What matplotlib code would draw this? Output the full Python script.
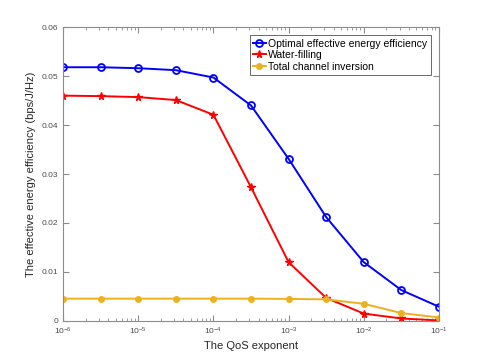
import numpy as np
import matplotlib
matplotlib.use('Agg')
import matplotlib.pyplot as plt
from matplotlib.ticker import LogLocator, FixedLocator

# QoS exponent values (10^-6 ... 10^-1, half-decade steps)
qos = [1e-6, 10**-5.5, 1e-5, 10**-4.5, 1e-4, 10**-3.5, 1e-3, 10**-2.5, 1e-2, 10**-1.5, 1e-1]
optimal = [0.0518, 0.0518, 0.0516, 0.0512, 0.0497, 0.0440, 0.0331, 0.0212, 0.0120, 0.0063, 0.0029]
water_filling = [0.0460, 0.0459, 0.0457, 0.0451, 0.0421, 0.0273, 0.0120, 0.0047, 0.0015, 0.0005, 0.0001]
channel_inv = [0.00455, 0.00455, 0.00455, 0.00455, 0.00455, 0.00455, 0.0045, 0.0044, 0.0035, 0.0016, 0.0007]

yticks = [0, 0.01, 0.02, 0.03, 0.04, 0.05, 0.06]
ytick_labels = ['0', '0.01', '0.02', '0.03', '0.04', '0.05', '0.06']

plt.rcParams['font.family'] = ['Liberation Sans', 'DejaVu Sans']

fig = plt.figure(figsize=(4.85, 3.61), dpi=100)
ax = fig.add_axes([0.130, 0.111, 0.775, 0.814])

ax.plot(qos, optimal, color='blue', marker='o', markerfacecolor='none',
        markersize=5, markeredgewidth=1.3, linewidth=1.4,
        label='Optimal effective energy efficiency')
ax.plot(qos, water_filling, color='red', marker='*', markersize=5.5,
        markeredgewidth=1.0, linewidth=1.4, label='Water-filling')
ax.plot(qos, channel_inv, color=(0.929, 0.694, 0.125), marker='o',
        markersize=4, linewidth=1.4, label='Total channel inversion')

ax.set_xscale('log')
ax.set_xlim(1e-6, 1e-1)
ax.set_ylim(0, 0.06)
ax.yaxis.set_major_locator(FixedLocator(yticks))
ax.set_yticklabels(ytick_labels)
ax.xaxis.set_major_locator(LogLocator(base=10, numticks=10))
ax.xaxis.set_minor_locator(LogLocator(base=10, subs=np.arange(2, 10), numticks=20))

gray = '#4d4d4d'
for s in ax.spines.values():
    s.set_color('#8c8c8c')
    s.set_linewidth(0.8)
ax.tick_params(which='both', direction='in', top=True, right=True,
               colors='#8c8c8c', labelcolor=gray, labelsize=6)
ax.tick_params(which='major', length=4)
ax.tick_params(which='minor', length=2)

ax.set_xlabel('The QoS exponent', fontsize=8, color='#262626', labelpad=3)
ax.set_ylabel('The effective energy efficiency (bps/J/Hz)', fontsize=8,
              color='#262626', labelpad=4)

leg = ax.legend(loc='upper right', fontsize=7.5, frameon=True, fancybox=False,
                borderpad=0.3, handlelength=1.3, handletextpad=0.2,
                labelspacing=0.15, borderaxespad=0.8)
leg.get_frame().set_edgecolor('#262626')
leg.get_frame().set_linewidth(0.6)

fig.savefig('out.png', dpi=100)
